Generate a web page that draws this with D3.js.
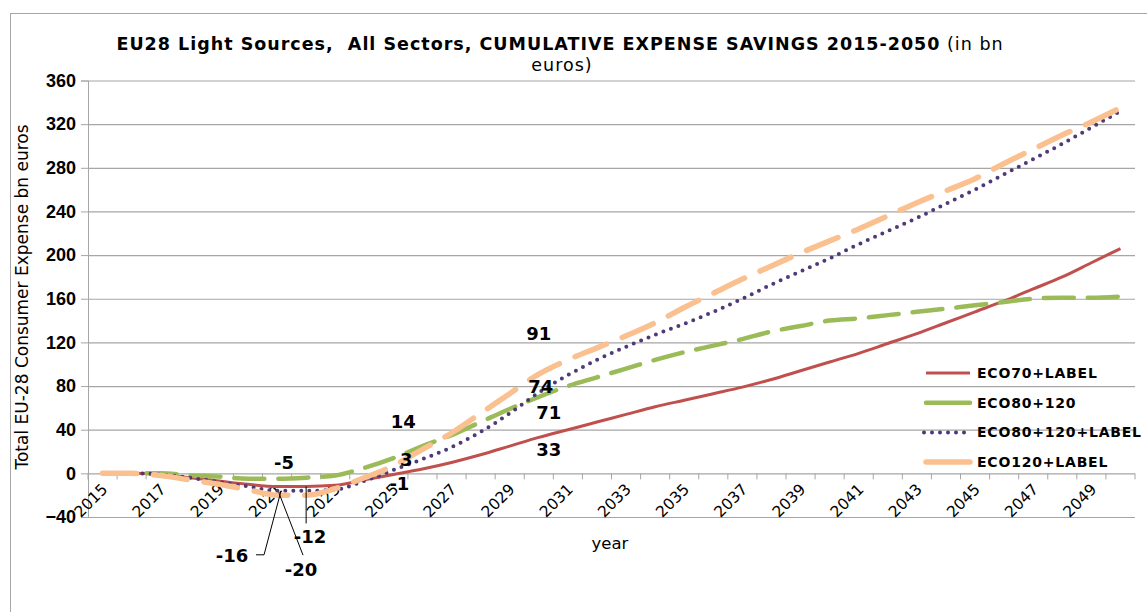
<!DOCTYPE html>
<html>
<head>
<meta charset="utf-8">
<script src="https://cdn.jsdelivr.net/npm/d3@7"></script>
<style>
  body { margin: 0; background: #fff; }
  svg { font-family: "DejaVu Sans", Verdana, sans-serif; }
</style>
</head>
<body>
<svg id="chart" width="1147" height="612"></svg>
<script>
// years on the category axis
const years = d3.range(2015, 2051);
const yTicks = [-40, 0, 40, 80, 120, 160, 200, 240, 280, 320, 360];

// cumulative expense savings, bn euros
const eco70Label = [0, 0, -1, -4, -7, -10, -12, -12, -11, -6, -1, 4, 10, 17, 25, 33,
  40, 47, 54, 61, 67, 73, 79, 86, 94, 102, 110, 119, 128, 138, 148, 158, 169, 180, 193, 206];
const eco80_120 = [0, 0, 0, -2, -3, -5, -5, -4, -2, 5, 14, 25, 35, 47, 59, 70,
  80, 88, 96, 104, 111, 117, 123, 130, 135, 140, 142, 145, 148, 151, 154, 157, 160, 161, 161, 162];
const eco80_120Label = [0, 0, -1, -4, -8, -12, -16, -16, -15, -7, 3, 13, 24, 38, 55, 74,
  90, 104, 116, 127, 137, 148, 160, 173, 185, 197, 210, 222, 234, 247, 260, 274, 288, 302, 317, 332];
const eco120Label = [0, 0, -2, -6, -10, -15, -20, -20, -14, -4, 7, 22, 37, 55, 73, 91,
  104, 115, 126, 138, 152, 165, 178, 190, 202, 213, 224, 236, 248, 259, 270, 284, 297, 310, 322, 335];

const seriesNames = ["ECO70+LABEL", "ECO80+120", "ECO80+120+LABEL", "ECO120+LABEL"];
const seriesValues = [eco70Label, eco80_120, eco80_120Label, eco120Label];

// data labels: [series index, year, text, dx, dy]
const dataLabels = [
  [0, 2025, "-1", 6, 16], [1, 2025, "14", 10, -30], [2, 2025, "3", 13, -4],
  [0, 2030, "33", 10, 19], [1, 2030, "71", 10, 22], [2, 2030, "74", 2, 0], [3, 2030, "91", 0, -34],
  [1, 2021, "-5", 7, -10]
];

const styles = [
  {color: "#C0504D", width: 3, dash: null, cap: "butt"},
  {color: "#9BBB59", width: 4.5, dash: "30,14", cap: "round"},
  {color: "#4F3A78", width: 4, dash: "0,8", cap: "round"},
  {color: "#FAC090", width: 5.5, dash: "34,17", cap: "round"}
];

const svg = d3.select("#chart");
const plot = {left: 88, right: 1135, top: 80.5, bottom: 517};

// outer chart border
svg.append("rect")
  .attr("x", 10.5).attr("y", 13.5)
  .attr("width", 1150).attr("height", 620)
  .attr("fill", "none").attr("stroke", "#a6a6a6");

const x = d3.scaleBand().domain(years).range([plot.left, plot.right]);
const y = d3.scaleLinear().domain([-40, 360]).range([plot.bottom, plot.top]);
const cx = yr => x(yr) + x.bandwidth() / 2;

// horizontal gridlines + y axis
const yAxis = svg.append("g")
  .attr("transform", `translate(${plot.left},0)`)
  .call(d3.axisLeft(y).tickValues(yTicks).tickSize(7).tickPadding(5));
yAxis.select(".domain").attr("stroke", "#a6a6a6");
yAxis.selectAll(".tick line").attr("stroke", "#a6a6a6");
yAxis.selectAll(".tick text")
  .style("font-size", "18px").style("font-weight", "bold").attr("fill", "#000");

svg.append("g")
  .selectAll("line")
  .data(yTicks)
  .join("line")
  .attr("x1", plot.left).attr("x2", plot.right)
  .attr("y1", d => y(d) + 0.5).attr("y2", d => y(d) + 0.5)
  .attr("stroke", "#a6a6a6").attr("stroke-width", 1.2);

// x axis at zero, ticks between categories
svg.append("g")
  .selectAll("line")
  .data(years.concat([2051]))
  .join("line")
  .attr("x1", d => d === 2051 ? plot.right : x(d))
  .attr("x2", d => d === 2051 ? plot.right : x(d))
  .attr("y1", y(0)).attr("y2", y(0) + 6)
  .attr("stroke", "#a6a6a6");

svg.append("g")
  .selectAll("text")
  .data(years.filter((d, i) => i % 2 === 0))
  .join("text")
  .attr("transform", d => `translate(${cx(d) + 6},${y(0) + 17}) rotate(-45)`)
  .attr("text-anchor", "end")
  .style("font-size", "15.5px")
  .text(d => d);

// lines
const line = d3.line()
  .x((d, i) => cx(years[i]))
  .y(d => y(d))
  .curve(d3.curveMonotoneX);

svg.append("g")
  .selectAll("path")
  .data(seriesValues)
  .join("path")
  .attr("d", d => line(d))
  .attr("fill", "none")
  .attr("stroke", (d, i) => styles[i].color)
  .attr("stroke-width", (d, i) => styles[i].width)
  .attr("stroke-dasharray", (d, i) => styles[i].dash)
  .attr("stroke-linecap", (d, i) => styles[i].cap);

// data labels
svg.append("g")
  .selectAll("text")
  .data(dataLabels)
  .join("text")
  .attr("x", d => cx(d[1]) + d[3])
  .attr("y", d => y(seriesValues[d[0]][years.indexOf(d[1])]) + d[4])
  .attr("text-anchor", "middle")
  .style("font-size", "18px").style("font-weight", "bold")
  .text(d => d[2]);

// labels with leader lines near the minimum
const leaders = [
  {s: 0, yr: 2022, text: "-12", tx: 310, ty: 543, pts: [[0, 0], [0, 37]]},
  {s: 2, yr: 2021, text: "-16", tx: 232, ty: 562, pts: [[4, 0], [-13, 64], [-21, 64]]},
  {s: 3, yr: 2021, text: "-20", tx: 301, ty: 576, pts: [[2, -2], [26, 60]]}
];
leaders.forEach(l => {
  const px = cx(l.yr), py = y(seriesValues[l.s][years.indexOf(l.yr)]);
  svg.append("path")
    .attr("d", d3.line()(l.pts.map(p => [px + p[0], py + p[1]])))
    .attr("fill", "none").attr("stroke", "#000").attr("stroke-width", 1);
  svg.append("text")
    .attr("x", l.tx).attr("y", l.ty)
    .attr("text-anchor", "middle")
    .style("font-size", "18px").style("font-weight", "bold")
    .text(l.text);
});

// titles
const title = svg.append("text")
  .attr("x", 560).attr("y", 50)
  .attr("text-anchor", "middle")
  .style("font-size", "17.5px")
  .style("letter-spacing", "1px");
title.append("tspan").style("font-weight", "bold")
  .text("EU28 Light Sources,\u00a0\u00a0All Sectors, CUMULATIVE EXPENSE SAVINGS 2015-2050");
title.append("tspan").text(" (in bn");
svg.append("text")
  .attr("x", 562).attr("y", 71)
  .attr("text-anchor", "middle")
  .style("font-size", "17.5px")
  .style("letter-spacing", "1px")
  .text("euros)");

svg.append("text")
  .attr("x", 610).attr("y", 549)
  .attr("text-anchor", "middle")
  .style("font-size", "16.5px")
  .text("year");

svg.append("text")
  .attr("transform", "translate(28,297) rotate(-90)")
  .attr("text-anchor", "middle")
  .style("font-size", "17px")
  .text("Total EU-28 Consumer Expense bn euros");

// legend
const legend = svg.append("g")
  .selectAll("g")
  .data(seriesNames)
  .join("g")
  .attr("transform", (d, i) => `translate(922,${373 + i * 29.7})`);
legend.append("line")
  .attr("x1", (d, i) => i === 2 ? 2 : 4).attr("x2", 48)
  .attr("stroke", (d, i) => styles[i].color)
  .attr("stroke-width", (d, i) => styles[i].width)
  .attr("stroke-dasharray", (d, i) => i === 2 ? styles[i].dash : null)
  .attr("stroke-linecap", (d, i) => styles[i].cap);
legend.append("text")
  .attr("x", 55).attr("dy", "0.36em")
  .style("font-size", "14px").style("font-weight", "bold")
  .style("letter-spacing", "0.8px")
  .text(d => d);
</script>
</body>
</html>
